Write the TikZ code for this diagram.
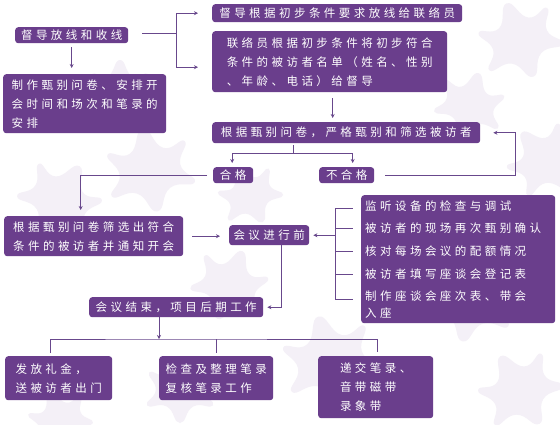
\documentclass[tikz,border=0pt]{standalone}
\usepackage{fontspec}
\newfontfamily\cjk[LetterSpace=30]{Noto Sans CJK SC}
\usetikzlibrary{arrows.meta}
\definecolor{boxc}{RGB}{106,62,140}
\definecolor{linec}{RGB}{104,72,140}
\definecolor{leafc}{RGB}{244,240,247}
\definecolor{leafd}{RGB}{238,233,243}
\newcommand\ivyleaf[5]{\begin{scope}[shift={(#1,#2)},rotate=#3,scale=#4]
\fill[#5] plot[smooth cycle, tension=0.9] coordinates{(0,-30)(12,-14)(28,-16)(22,0)(30,14)(12,15)(0,30)(-12,15)(-30,14)(-22,0)(-28,-16)(-12,-14)};
\end{scope}}
\tikzset{
  box/.style={fill=boxc, rounded corners=3pt, text=white, inner sep=0pt,
    font=\cjk\fontsize{11.5}{19}\selectfont, align=left, anchor=north west},
  ln/.style={draw=linec, line width=0.9pt},
  arr/.style={ln, -{Stealth[length=4pt,width=4pt]}},
  itm/.style={text=white, inner sep=0pt, anchor=west, font=\cjk\fontsize{11.5}{19}\selectfont, align=left}
}
\begin{document}
\begin{tikzpicture}[x=1pt,y=-1pt]
\useasboundingbox (0,0) rectangle (560,424);
\fill[white] (0,0) rectangle (560,424);
% faint ivy background
\ivyleaf{520}{40}{20}{1.3}{leafc}
\ivyleaf{470}{105}{-15}{1.1}{leafc}
\ivyleaf{545}{160}{40}{1.2}{leafc}
\ivyleaf{150}{170}{10}{1.4}{leafc}
\ivyleaf{60}{200}{-30}{1.3}{leafc}
\ivyleaf{250}{195}{25}{1.0}{leafc}
\ivyleaf{120}{90}{0}{1.0}{leafc}
\ivyleaf{230}{285}{-20}{1.2}{leafc}
\ivyleaf{330}{360}{15}{1.5}{leafc}
\ivyleaf{470}{300}{-10}{1.4}{leafc}
\ivyleaf{520}{390}{30}{1.3}{leafc}
\ivyleaf{180}{390}{0}{1.1}{leafc}
\ivyleaf{60}{420}{20}{1.0}{leafc}
\ivyleaf{400}{230}{5}{1.0}{leafd}
% boxes
\node[box, minimum width=113, minimum height=16] (n1) at (15,27) {督导放线和收线};
\node[box, minimum width=250, minimum height=18] (n2) at (212,4) {督导根据初步条件要求放线给联络员};
\node[box, minimum width=235, minimum height=61] (n3) at (212,31) {联络员根据初步条件将初步符合\\条件的被访者名单（姓名、性别\\、年龄、电话）给督导};
\node[box, minimum width=163, minimum height=59] (n4) at (3,74) {制作甄别问卷、安排开\\会时间和场次和笔录的\\安排};
\node[box, minimum width=268, minimum height=21] (n5) at (212,122) {根据甄别问卷，严格甄别和筛选被访者};
\node[box, minimum width=40, minimum height=16] (n6) at (213,167) {合格};
\node[box, minimum width=55, minimum height=16] (n7) at (319,167) {不合格};
\node[box, minimum width=179, minimum height=40] (n8) at (4,216) {根据甄别问卷筛选出符合\\条件的被访者并通知开会};
\node[box, minimum width=80, minimum height=20] (n9) at (229,225) {会议进行前};
\node[box, minimum width=194, minimum height=128] (n10) at (361,195) {};
\node[itm] (l1) at (365,206) {监听设备的检查与调试};
\node[itm] (l2) at (365,228) {被访者的现场再次甄别确认};
\node[itm] (l3) at (365,251) {核对每场会议的配额情况};
\node[itm] (l4) at (365,274) {被访者填写座谈会登记表};
\node[itm, anchor=north west] (l5) at (365,291) {制作座谈会座次表、带会\\[-2pt]入座};
\node[box, minimum width=174, minimum height=20] (n11) at (89,297) {会议结束，项目后期工作};
\node[box, minimum width=107, minimum height=44] (n12) at (5,356) {发放礼金，\\送被访者出门};
\node[box, minimum width=114, minimum height=44] (n13) at (159,356) {检查及整理笔录\\复核笔录工作};
\node[box, minimum width=115, minimum height=62] (n14) at (318,356) {递交笔录、\\音带磁带\\录象带};
% connectors
\coordinate (j1) at (176,33);
\draw[ln] ([xshift=14]n1.east |- j1) -- (j1);
\draw[arr] (j1) |- ([xshift=-14]n2.west);
\draw[arr] (j1) |- ([xshift=-14,yshift=-5.5]n3.west);
\draw[arr, shorten <=4, shorten >=6] (n1.south) -- (n1.south |- n4.north);
\draw[arr, shorten <=6, shorten >=4] ([xshift=3]n3.south) -- ([xshift=3]n3.south |- n5.north);
\coordinate (s5) at (293,153);
\draw[ln, shorten <=2] (n5.south -| s5) -- (s5);
\draw[arr, shorten >=4] (s5) -| ([xshift=-1]n6.north);
\draw[arr, shorten >=4] (s5) -| ([xshift=6]n7.north);
\draw[arr, shorten <=6, shorten >=6] (n6.west) -| ([xshift=-13]n8.north);
\draw[arr, shorten <=11, shorten >=13] (n7.east) -- ++(141,0) |- (n5.east);
\draw[arr, shorten <=9, shorten >=9] (n8.east) -- (n8.east -| n9.west);
\coordinate (b1) at (335,208);
\coordinate (b5) at (335,299);
\draw[ln] (b1) -- (b5);
\draw[ln] (b1) -- ([xshift=-12]l1.west |- b1);
\draw[ln] (b1 |- l2.west) -- ([xshift=-12]l2.west);
\draw[ln] (b1 |- l3.west) -- ([xshift=-12]l3.west);
\draw[ln] (b1 |- l4.west) -- ([xshift=-12]l4.west);
\draw[ln] (b5) -- ([xshift=-12]l5.west |- b5);
\draw[arr, shorten >=4] (b1 |- n9.east) -- (n9.east);
\draw[arr, shorten >=4] ([xshift=12]n9.south) |- (n11.east);
\coordinate (h) at (159,339);
\draw[arr] (n11.south -| h) -- (h);
\draw[ln] ([xshift=-8.5,yshift=3]n12.north) |- (h) -| ([xshift=1.5,yshift=4]n14.north);
\draw[ln] (h -| n13.north) -- ([yshift=3]n13.north);
\end{tikzpicture}
\end{document}
